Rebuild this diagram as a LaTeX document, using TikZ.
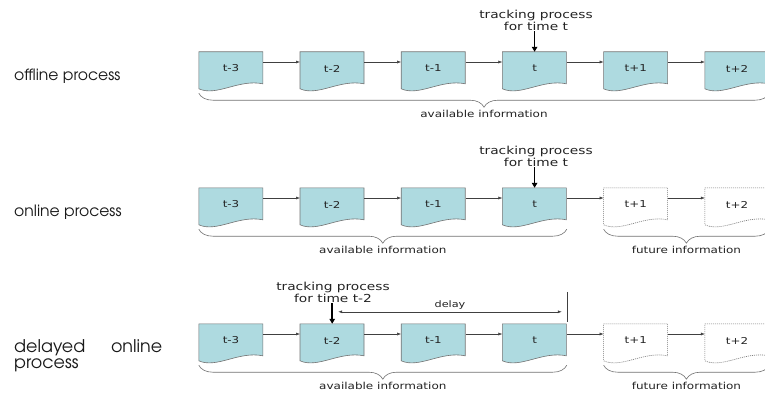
\documentclass[tikz,border=0pt]{standalone}
\usepackage{fontspec}
\usetikzlibrary{arrows.meta,decorations.pathreplacing,backgrounds,calc}
\newfontfamily\sidefont{TeX Gyre Adventor}
\newfontfamily\notefont[FakeStretch=1.25]{DejaVu Sans}
\definecolor{docblue}{RGB}{174,218,224}
\definecolor{docline}{RGB}{115,115,115}
\definecolor{inkgray}{RGB}{35,35,35}

\tikzset{
  stage/.style={rectangle, minimum width=64pt, minimum height=33pt, inner sep=0pt,
    font=\notefont\fontsize{9.5}{11}\selectfont, text=inkgray},
  docfilled/.style={fill=docblue, draw=docline, line width=0.6pt},
  docfuture/.style={fill=white, draw=docline, line width=0.6pt, dash pattern=on 1pt off 1pt},
  flow/.style={draw=black!75, line width=0.5pt, -{Latex[length=4pt,width=3pt]}},
  focus/.style={line width=1.6pt, -{Triangle[length=5pt,width=5.5pt]}},
  span/.style={draw=docline, line width=0.6pt, decorate, decoration={brace, mirror, amplitude=14pt}},
  note/.style={font=\notefont\fontsize{9.6}{11}\selectfont, text=inkgray},
  tracknote/.style={font=\notefont\fontsize{11}{12}\selectfont, align=center, text=inkgray, inner sep=1pt},
  side/.style={font=\sidefont\fontsize{15.6}{15.5}\selectfont, anchor=west, align=left, text=black!90, inner sep=0pt},
  delayarrow/.style={draw=black!75, line width=0.5pt, {Latex[length=4pt,width=3pt]}-{Latex[length=4pt,width=3pt]}}
}

% document-shaped outline hanging from a node's top edge
\newcommand\docoutline[2]{%
  \path[#2, shift={(#1.north west)}] (0,0) -- (64,0) -- (64,32)
    .. controls (40,27) and (18,45) .. (0,37) -- cycle;
}

\begin{document}
\begin{tikzpicture}[x=1pt, y=-1pt]
\useasboundingbox (0,0) rectangle (765,396);

% time steps, three rows
\foreach \r/\top in {1/52, 2/188, 3/324} {
  \foreach \i/\lab in {0/t-3, 1/t-2, 2/t-1, 3/t, 4/t+1, 5/t+2} {
    \node[stage] (n\r\i) at ({231+101.2*\i}, {\top+16.5}) {\lab};
  }
}

\begin{scope}[on background layer]
  \fill[white] (0,0) rectangle (765,396);
  \foreach \c in {0,...,5} {\docoutline{n1\c}{docfilled}}
  \foreach \r in {2,3} {
    \foreach \c in {0,...,3} {\docoutline{n\r\c}{docfilled}}
    \foreach \c in {4,5} {\docoutline{n\r\c}{docfuture}}
  }
\end{scope}

% sequence arrows
\foreach \r in {1,2,3} {
  \foreach \c [evaluate=\c as \d using int(\c+1)] in {0,...,4} {
    \draw[flow] ([yshift=6.5pt]n\r\c.east) -- ([yshift=6.5pt]n\r\d.west);
  }
}

% row labels
\node[side] (L1) at (14,76) {offline process};
\node[side] (L2) at (14,212) {online process};
\node[side, font=\sidefont\fontsize{17.5}{16}\selectfont] (L3) at (14,356)
  {\makebox[148pt][s]{delayed online}\\process};

% tracking markers
\node[tracknote] (k1) at (536,20) {tracking process\\for time t};
\draw[focus] (k1.south -| n13.north) -- (n13.north);
\node[tracknote] (k2) at (536,156) {tracking process\\for time t};
\draw[focus] (k2.south -| n23.north) -- (n23.north);
\node[tracknote] (k3) at (333,292) {tracking process\\for time t-2};
\draw[focus] (k3.south -| n31.north) -- (n31.north);

% delay span
\coordinate (vtop) at ($(n33.north east)+(0,-32)$);
\coordinate (vbot) at ($(n33.north east)+(0,-2)$);
\draw[black!75, line width=0.5pt] (vtop) -- (vbot);
\coordinate (dstart) at ($(n31.north)+(6,-12)$);
\coordinate (dend) at ($(n33.north east)+(-5,-12)$);
\draw[delayarrow] (dstart) -- (dend) node[midway, yshift=7pt, note, font=\notefont\fontsize{9}{10}\selectfont] {delay};

% information braces
\draw[span] ($(n10.south west)+(0,8)$) -- ($(n15.south east)+(0,8)$)
  node[midway, yshift=-21pt, note] {available information};
\draw[span] ($(n20.south west)+(0,8)$) -- ($(n23.south east)+(0,8)$)
  node[midway, yshift=-21pt, note] {available information};
\draw[span] ($(n24.south west)+(0,8)$) -- ($(n25.south east)+(0,8)$)
  node[midway, yshift=-21pt, note] {future information};
\draw[span] ($(n30.south west)+(0,8)$) -- ($(n33.south east)+(0,8)$)
  node[midway, yshift=-21pt, note] {available information};
\draw[span] ($(n34.south west)+(0,8)$) -- ($(n35.south east)+(0,8)$)
  node[midway, yshift=-21pt, note] {future information};
\end{tikzpicture}
\end{document}
